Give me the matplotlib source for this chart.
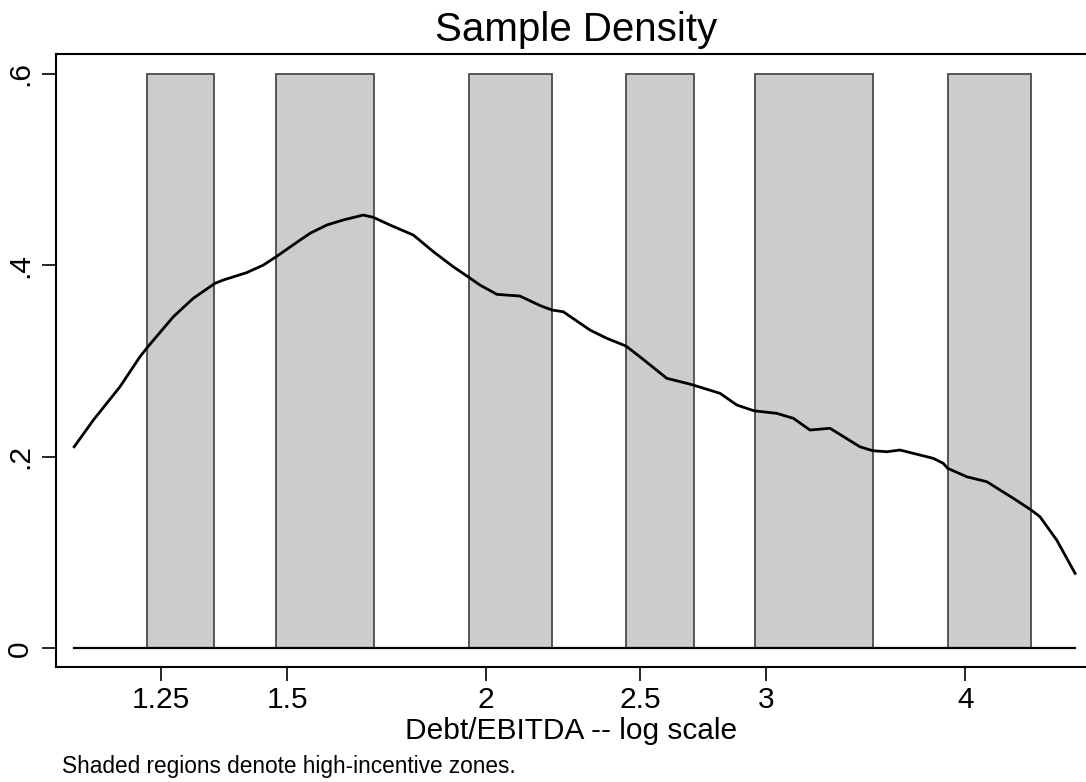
import matplotlib
matplotlib.use("Agg")
import matplotlib.pyplot as plt
from matplotlib.ticker import FixedLocator, NullLocator

plt.rcParams['font.family'] = ['Liberation Sans', 'DejaVu Sans']

# Density curve (Debt/EBITDA, density)
curve_x = [1.102, 1.133, 1.1775, 1.212, 1.226, 1.272, 1.309, 1.351, 1.367, 1.414,
           1.449, 1.476, 1.528, 1.550, 1.588, 1.626, 1.674, 1.699, 1.740, 1.800,
           1.853, 1.907, 1.948, 1.982, 2.031, 2.100, 2.162, 2.200, 2.236, 2.324,
           2.381, 2.448, 2.498, 2.597, 2.673, 2.698, 2.805, 2.874, 2.946, 3.045,
           3.119, 3.195, 3.289, 3.434, 3.498, 3.570, 3.639, 3.819, 3.874, 3.899,
           4.008, 4.126, 4.287, 4.400, 4.456, 4.565, 4.688]
curve_y = [0.2105, 0.2384, 0.2732, 0.3045, 0.3150, 0.3463, 0.3655, 0.3812, 0.3846, 0.3923,
           0.4003, 0.4090, 0.4264, 0.4334, 0.4421, 0.4473, 0.4525, 0.4501, 0.4421, 0.4316,
           0.4142, 0.3985, 0.3881, 0.3794, 0.3697, 0.3679, 0.3580, 0.3533, 0.3515, 0.3324,
           0.3238, 0.3157, 0.3045, 0.2820, 0.2768, 0.2750, 0.2663, 0.2541, 0.2481, 0.2454,
           0.2402, 0.2280, 0.2298, 0.2105, 0.2064, 0.2053, 0.2071, 0.1984, 0.1932, 0.1880,
           0.1792, 0.1740, 0.1567, 0.1444, 0.1374, 0.1131, 0.0783]

# High-incentive zones
zone_lo = [1.225, 1.475, 1.95, 2.45, 2.95, 3.90]
zone_hi = [1.35, 1.70, 2.20, 2.70, 3.50, 4.40]
zone_height = 0.6

xticks = [1.25, 1.5, 2, 2.5, 3, 4]
xtick_labels = ['1.25', '1.5', '2', '2.5', '3', '4']
yticks = [0, 0.2, 0.4, 0.6]
ytick_labels = ['0', '.2', '.4', '.6']

fig = plt.figure(figsize=(10.86, 7.82), dpi=100)
ax = fig.add_axes([56 / 1086, 1 - 667 / 782, 1 - 56 / 1086, (667 - 54) / 782])
ax.set_xscale('log')

widths = [h - l for l, h in zip(zone_lo, zone_hi)]
ax.bar(zone_lo, [zone_height] * len(zone_lo), width=widths, align='edge',
       color='#cccccc', edgecolor='#4a4a4a', linewidth=1.3, zorder=1)
ax.plot([curve_x[0], curve_x[-1]], [0, 0], color='black', linewidth=1.6, zorder=2)
ax.plot(curve_x, curve_y, color='black', linewidth=2.0, zorder=3)

ax.set_xlim(1.0734, 4.7626)
ax.set_ylim(-0.0195, 0.6207)

ax.xaxis.set_major_locator(FixedLocator(xticks))
ax.xaxis.set_minor_locator(NullLocator())
ax.set_xticklabels(xtick_labels)
ax.set_yticks(yticks)
ax.set_yticklabels(ytick_labels, rotation=90, va='center')

ax.tick_params(axis='both', which='major', labelsize=21.5, length=10, width=1.2, color='black')
ax.tick_params(axis='y', pad=6)
ax.tick_params(axis='x', pad=4)

for s in ['left', 'bottom', 'top']:
    ax.spines[s].set_linewidth(1.5)
ax.spines['right'].set_visible(False)

ax.set_xlabel('Debt/EBITDA -- log scale', fontsize=21.5, labelpad=2)
fig.text(0.530, 1 - 30 / 782, 'Sample Density', ha='center', va='center', fontsize=29)
fig.text(62 / 1086, 1 - 766 / 782, 'Shaded regions denote high-incentive zones.',
         ha='left', va='center', fontsize=16.3)

fig.savefig('out.png', dpi=100)
